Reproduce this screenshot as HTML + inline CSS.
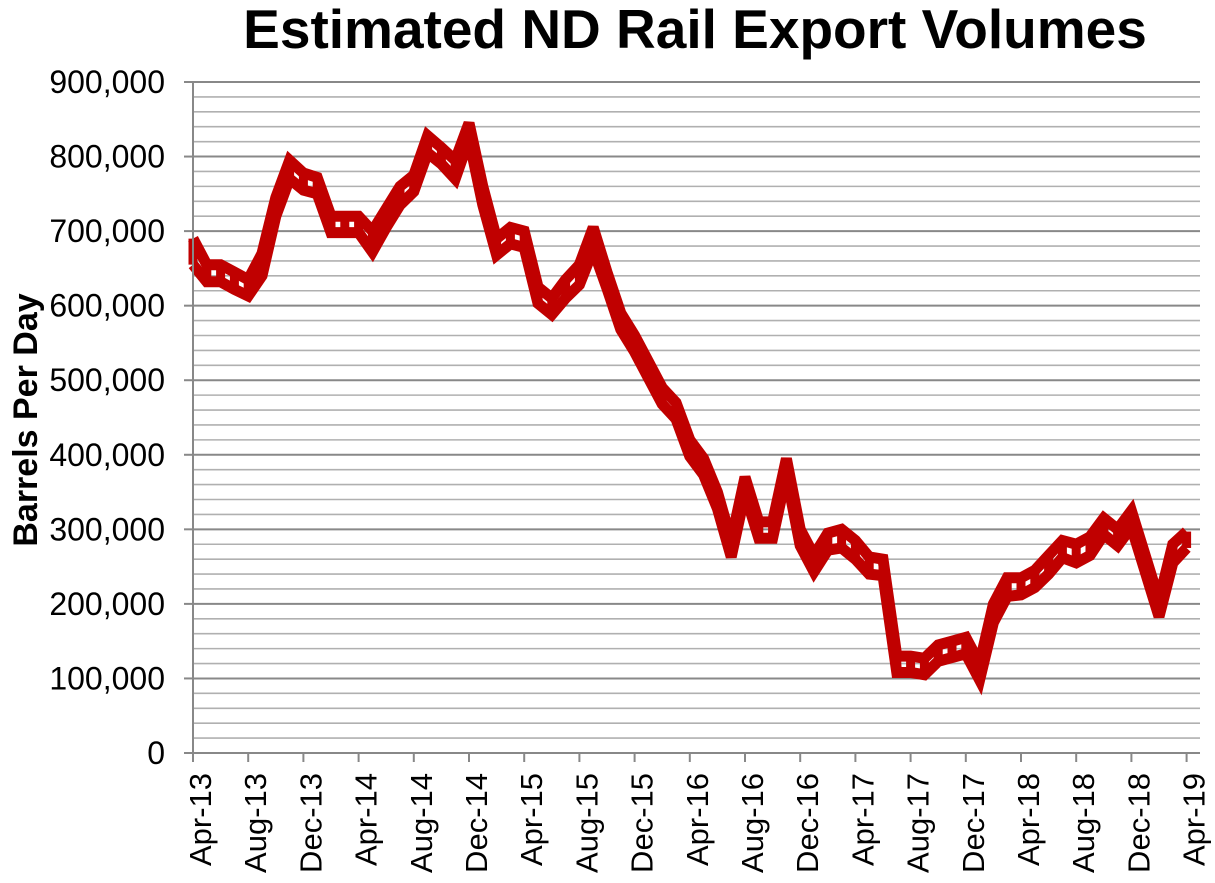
<!DOCTYPE html>
<html><head><meta charset="utf-8"><style>
html,body{margin:0;padding:0;background:#fff;}
svg{display:block;font-family:"Liberation Sans",Arial,sans-serif;}
</style></head><body>
<svg id="c" width="1215" height="883" viewBox="0 0 1215 883" xmlns="http://www.w3.org/2000/svg">
<text x="695" y="48" text-anchor="middle" font-size="55" font-weight="bold">Estimated ND Rail Export Volumes</text>
<text transform="translate(37,420) rotate(-90)" text-anchor="middle" font-size="34" font-weight="bold">Barrels Per Day</text>
<g id="grid"></g><g id="ser"></g><g id="ax"></g>
</svg>
<script>
var NS="http://www.w3.org/2000/svg";
function el(p,t,a,txt){var e=document.createElementNS(NS,t);for(var k in a)e.setAttribute(k,a[k]);if(txt!=null)e.textContent=txt;p.appendChild(e);return e;}
var X0=193,DX=13.8,Y0=753,YS=671/900;
function X(i){return X0+i*DX;} function Y(v){return Y0-v*YS;}
var g=document.getElementById('grid'),ax=document.getElementById('ax'),s=document.getElementById('ser');
for(var v=20;v<=900;v+=20){var maj=v%100==0;el(g,'line',{x1:193,x2:1200,y1:Y(v),y2:Y(v),stroke:maj?'#888':'#b0b0b0','stroke-width':maj?2:1.6});}
el(ax,'line',{x1:193,x2:193,y1:Y(900),y2:753,stroke:'#888','stroke-width':2});
el(ax,'line',{x1:193,x2:1200,y1:753,y2:753,stroke:'#888','stroke-width':2});
for(var v=0;v<=900;v+=100){el(ax,'line',{x1:184,x2:193,y1:Y(v),y2:Y(v),stroke:'#888','stroke-width':2});
el(ax,'text',{x:165,y:Y(v)+11,'text-anchor':'end','font-size':32},v==0?'0':(v+',000'));}
var m=['Apr','Aug','Dec'];
for(var i=0;i<=72;i+=4){var x=X(i);el(ax,'line',{x1:x,x2:x,y1:753,y2:762,stroke:'#888','stroke-width':2});
var yr=13+Math.floor((i+3)/12);var lab=m[(i/4)%3]+'-'+yr;
el(ax,'text',{transform:'translate('+(x+18)+',773) rotate(-90)','text-anchor':'end','font-size':31},lab);}
var U=[690,655,655,645,635,670,745,795,778,772,720,720,720,700,730,760,775,828,812,795,845,760,690,705,700,625,610,635,655,705,645,590,560,525,490,470,420,395,350,285,370,310,310,395,300,265,295,300,285,263,260,130,130,127,145,150,155,120,200,235,235,245,265,285,280,290,315,300,325,265,205,280,297];
var L=[655,632,632,622,615,640,720,770,755,752,705,705,705,672,705,735,755,805,790,770,830,735,668,683,680,605,590,610,628,675,630,575,545,510,475,455,400,380,335,275,355,290,290,380,280,250,272,275,260,240,240,110,110,108,125,130,138,105,175,210,212,222,240,262,255,265,295,278,305,255,200,255,275];
for(var i=0;i<U.length;i++){if(U[i]-L[i]<22)L[i]=U[i]-22;}
function pts(a){return a.map(function(v,i){return X(i).toFixed(1)+','+Y(v).toFixed(1);}).join(' ');}
var st={fill:'none',stroke:'#c00000','stroke-width':11,'stroke-linejoin':'miter','stroke-miterlimit':3};
for(var i=0;i<U.length;i++)el(s,'line',{x1:X(i),x2:X(i),y1:Y(U[i]),y2:Y(L[i]),stroke:'#c00000','stroke-width':9});
el(s,'polyline',Object.assign({points:pts(U)},st));
el(s,'polyline',Object.assign({points:pts(L)},st));
</script>
</body></html>
